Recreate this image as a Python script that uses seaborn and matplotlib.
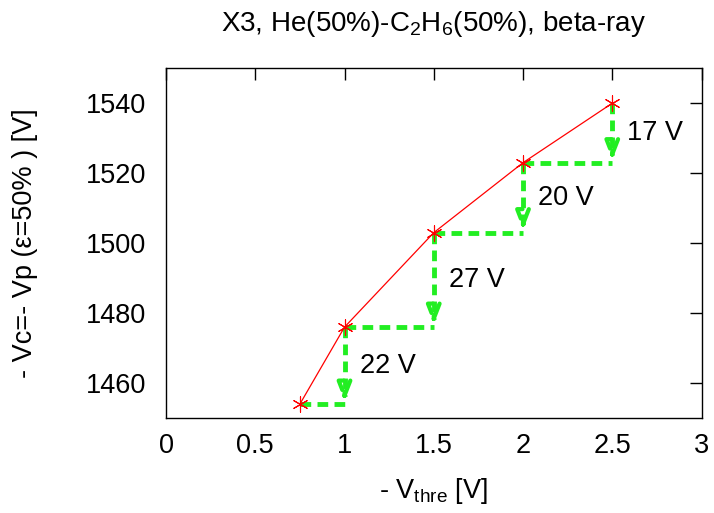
import matplotlib
matplotlib.use("Agg")
import matplotlib.pyplot as plt
import seaborn as sns
import pandas as pd

vthre = [0.75, 1.0, 1.5, 2.0, 2.5]
vc = [1454, 1476, 1503, 1523, 1540]
step_labels = ["22 V", "27 V", "20 V", "17 V"]
xticks = [0, 0.5, 1, 1.5, 2, 2.5, 3]
yticks = [1460, 1480, 1500, 1520, 1540]

sns.set_theme(style="white")
plt.rcParams['font.family'] = ['Liberation Sans', 'DejaVu Sans']
plt.rcParams['mathtext.fontset'] = 'custom'
plt.rcParams['mathtext.rm'] = 'Liberation Sans'
plt.rcParams['mathtext.it'] = 'Liberation Sans'
plt.rcParams['text.color'] = 'black'
plt.rcParams['axes.labelcolor'] = 'black'

FS = 19.5

df = pd.DataFrame({"x": vthre, "y": vc})
fig = plt.figure(figsize=(7.14, 5.13), dpi=100)
ax = fig.add_axes([0.2325, 0.185, 0.75, 0.682])

sns.lineplot(data=df, x="x", y="y", ax=ax, color="red", linewidth=0.9, zorder=3)
sns.scatterplot(data=df, x="x", y="y", ax=ax, marker=(6, 2, 0), s=120, color="red",
                edgecolor="red", linewidth=0.8, zorder=4)

green = "#22ee22"
for i in range(len(vthre) - 1):
    x0, x1 = vthre[i], vthre[i + 1]
    y0, y1 = vc[i], vc[i + 1]
    ax.plot([x0, x1], [y0, y0], color=green, lw=3.5, ls=(0, (2.2, 1.3)), zorder=2)
    ax.plot([x1, x1], [y1, y0 + 2.2], color=green, lw=3.5, ls=(0, (2.2, 1.3)), zorder=2)
    ax.annotate("", xy=(x1, y0), xytext=(x1, y0 + 4),
                arrowprops=dict(arrowstyle="-|>,head_width=0.35,head_length=0.9",
                                color=green, lw=3, ls="--", fill=False), zorder=2)
    ax.text(x1 + 0.085, (y0 + y1) / 2, step_labels[i], fontsize=FS,
            ha="left", va="center", color="black")

ax.set_xlim(0, 3)
ax.set_ylim(1450, 1550)
ax.set_xticks(xticks)
ax.set_xticklabels([f"{t:g}" for t in xticks])
ax.set_yticks(yticks)
ax.tick_params(direction="in", length=8.5, width=1, top=True, right=True,
               labelsize=FS, colors="black")
ax.tick_params(axis="y", pad=14)
ax.tick_params(axis="x", pad=11)
for s in ax.spines.values():
    s.set_color("black")
    s.set_linewidth(1)

ax.set_xlabel(r"- V$_{\mathrm{thre}}$ [V]", fontsize=FS, labelpad=12, color="black")
ax.set_ylabel("- Vc=- Vp (ε=50% ) [V]", fontsize=FS, labelpad=35, color="black")
ax.set_title(r"X3, He(50%)-C$_2$H$_6$(50%), beta-ray", fontsize=20, pad=27, color="black")

fig.savefig("out.png", dpi=100)
